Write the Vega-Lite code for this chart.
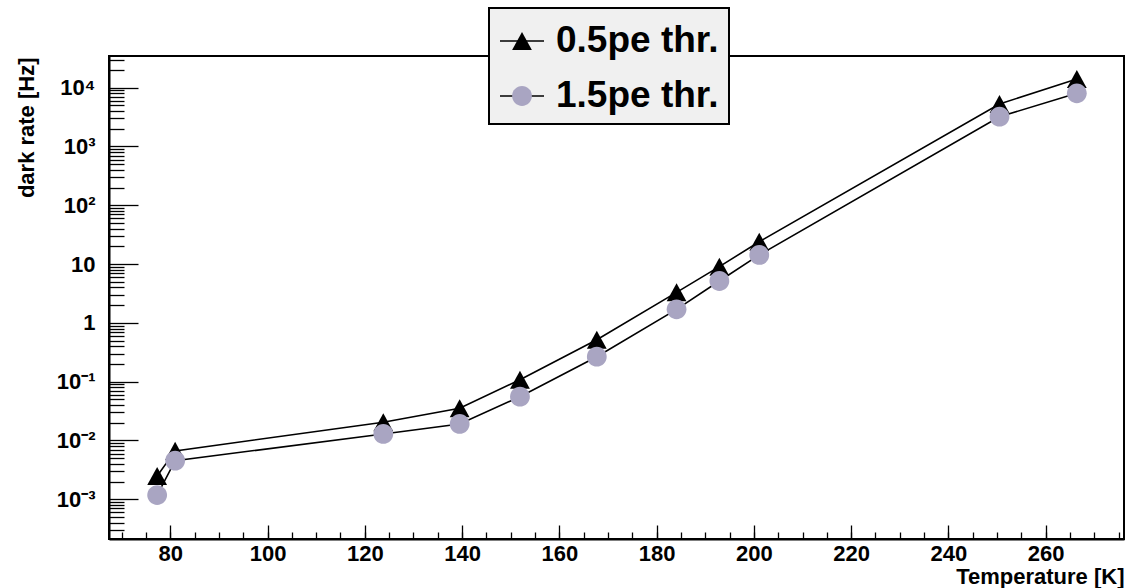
{
  "$schema": "https://vega.github.io/schema/vega-lite/v6.json",
  "width": 1015,
  "height": 483,
  "autosize": {"type": "none"},
  "padding": {"left": 109, "top": 56, "right": 5, "bottom": 49},
  "background": "white",
  "config": {
    "view": {"stroke": "black", "strokeWidth": 2},
    "font": "Liberation Sans"
  },
  "data": {
    "values": [
      {"T": 77.3, "rate": 0.00249, "series": "0.5pe thr."},
      {"T": 81.0, "rate": 0.00665, "series": "0.5pe thr."},
      {"T": 123.8, "rate": 0.0204, "series": "0.5pe thr."},
      {"T": 139.5, "rate": 0.0353, "series": "0.5pe thr."},
      {"T": 151.9, "rate": 0.108, "series": "0.5pe thr."},
      {"T": 167.7, "rate": 0.518, "series": "0.5pe thr."},
      {"T": 184.1, "rate": 3.31, "series": "0.5pe thr."},
      {"T": 192.9, "rate": 9.04, "series": "0.5pe thr."},
      {"T": 201.1, "rate": 24.0, "series": "0.5pe thr."},
      {"T": 250.5, "rate": 5280, "series": "0.5pe thr."},
      {"T": 266.4, "rate": 14100, "series": "0.5pe thr."},
      {"T": 77.3, "rate": 0.00118, "series": "1.5pe thr."},
      {"T": 81.0, "rate": 0.00453, "series": "1.5pe thr."},
      {"T": 123.8, "rate": 0.0129, "series": "1.5pe thr."},
      {"T": 139.5, "rate": 0.0191, "series": "1.5pe thr."},
      {"T": 151.9, "rate": 0.0556, "series": "1.5pe thr."},
      {"T": 167.7, "rate": 0.266, "series": "1.5pe thr."},
      {"T": 184.1, "rate": 1.70, "series": "1.5pe thr."},
      {"T": 192.9, "rate": 5.16, "series": "1.5pe thr."},
      {"T": 201.1, "rate": 14.3, "series": "1.5pe thr."},
      {"T": 250.5, "rate": 3210, "series": "1.5pe thr."},
      {"T": 266.4, "rate": 8030, "series": "1.5pe thr."}
    ]
  },
  "resolve": {"axis": {"x": "independent", "y": "independent"}},
  "layer": [
    {
      "mark": {"type": "line", "strokeWidth": 1.6},
      "encoding": {
        "x": {
          "field": "T", "type": "quantitative",
          "scale": {"domain": [67.4, 276.1], "nice": false, "zero": false},
          "axis": {
            "orient": "bottom",
            "values": [80, 100, 120, 140, 160, 180, 200, 220, 240, 260],
            "grid": false,
            "tickSize": -14, "tickWidth": 1.3, "tickColor": "black",
            "domainColor": "black", "domainWidth": 2,
            "labelFont": "Liberation Sans", "labelFontWeight": "bold", "labelFontSize": 22,
            "labelColor": "black", "labelBaseline": "alphabetic", "labelPadding": 35,
            "title": "Temperature [K]",
            "titleFont": "Liberation Sans", "titleFontWeight": "bold", "titleFontSize": 22,
            "titleColor": "black", "titleAlign": "right", "titleAnchor": "end",
            "titleBaseline": "alphabetic", "titleX": 1015, "titleY": 44
          }
        },
        "y": {
          "field": "rate", "type": "quantitative",
          "scale": {"type": "log", "domain": [0.000211, 34600], "nice": false},
          "axis": {
            "orient": "left",
            "values": [0.001, 0.01, 0.1, 1, 10, 100, 1000, 10000],
            "labelExpr": "datum.value >= 9999 ? '10⁴' : datum.value >= 999 ? '10³' : datum.value >= 99 ? '10²' : datum.value >= 9 ? '10' : datum.value >= 0.9 ? '1' : datum.value >= 0.09 ? '10⁻¹' : datum.value >= 0.009 ? '10⁻²' : '10⁻³'",
            "grid": false,
            "tickSize": -29, "tickWidth": 1.3, "tickColor": "black",
            "domainColor": "black", "domainWidth": 2,
            "labelFont": "Liberation Sans", "labelFontWeight": "bold", "labelFontSize": 22,
            "labelColor": "black", "labelPadding": 43,
            "title": "dark rate [Hz]",
            "titleFont": "Liberation Sans", "titleFontWeight": "bold", "titleFontSize": 22,
            "titleColor": "black", "titleAngle": -90, "titleAlign": "right", "titleAnchor": "end",
            "titleBaseline": "alphabetic", "titleX": -76, "titleY": 1
          }
        },
        "stroke": {
          "field": "series", "type": "nominal",
          "scale": {"domain": ["0.5pe thr.", "1.5pe thr."], "range": ["black", "black"]},
          "legend": {
            "orient": "none", "legendX": 380, "legendY": -48, "title": null,
            "symbolType": "M-1,0H1", "symbolSize": 1936, "symbolStrokeWidth": 1.6,
            "labelFont": "Liberation Sans", "labelFontWeight": "bold", "labelFontSize": 37,
            "labelColor": "black", "labelOffset": 11, "labelLimit": 400,
            "padding": 10, "rowPadding": 14,
            "fillColor": "#f0f0f0", "strokeColor": "black", "zindex": 1,
            "encode": {"legend": {"update": {"strokeWidth": {"value": 2}}}}
          }
        }
      }
    },
    {
      "mark": {"type": "point", "filled": true, "size": 1936, "opacity": 1},
      "encoding": {
        "x": {
          "field": "T", "type": "quantitative",
          "axis": {
            "orient": "bottom",
            "values": [70, 75, 80, 85, 90, 95, 100, 105, 110, 115, 120, 125, 130, 135, 140, 145, 150, 155, 160, 165, 170, 175, 180, 185, 190, 195, 200, 205, 210, 215, 220, 225, 230, 235, 240, 245, 250, 255, 260, 265, 270, 275],
            "grid": false, "labels": false, "domain": false, "title": null,
            "tickSize": -7, "tickWidth": 1.3, "tickColor": "black"
          }
        },
        "y": {
          "field": "rate", "type": "quantitative",
          "axis": {
            "orient": "left",
            "values": [0.0003, 0.0004, 0.0005, 0.0006, 0.0007, 0.0008, 0.0009,
                       0.002, 0.003, 0.004, 0.005, 0.006, 0.007, 0.008, 0.009,
                       0.02, 0.03, 0.04, 0.05, 0.06, 0.07, 0.08, 0.09,
                       0.2, 0.3, 0.4, 0.5, 0.6, 0.7, 0.8, 0.9,
                       2, 3, 4, 5, 6, 7, 8, 9,
                       20, 30, 40, 50, 60, 70, 80, 90,
                       200, 300, 400, 500, 600, 700, 800, 900,
                       2000, 3000, 4000, 5000, 6000, 7000, 8000, 9000,
                       20000, 30000],
            "grid": false, "labels": false, "domain": false, "title": null,
            "tickSize": -15, "tickWidth": 1.3, "tickColor": "black"
          }
        },
        "color": {
          "field": "series", "type": "nominal",
          "scale": {"range": ["black", "#a9a5c2"]},
          "legend": {
            "orient": "none", "legendX": 380, "legendY": -48, "title": null,
            "symbolSize": 1936, "symbolStrokeWidth": 1.6, "symbolStrokeColor": "transparent", "symbolOpacity": 1,
            "labelFont": "Liberation Sans", "labelFontWeight": "bold", "labelFontSize": 37,
            "labelOpacity": 0, "labelOffset": 11, "labelLimit": 400,
            "padding": 10, "rowPadding": 14, "zindex": 2
          }
        },
        "shape": {
          "field": "series", "type": "nominal",
          "scale": {"range": ["M0,-0.41L0.45,0.41L-0.45,0.41Z", "M0.45,0A0.45,0.45,0,1,1,-0.45,0A0.45,0.45,0,1,1,0.45,0Z"]},
          "legend": {
            "orient": "none", "legendX": 380, "legendY": -48, "title": null,
            "symbolSize": 1936, "symbolStrokeWidth": 1.6, "symbolStrokeColor": "transparent", "symbolOpacity": 1,
            "labelFont": "Liberation Sans", "labelFontWeight": "bold", "labelFontSize": 37,
            "labelOpacity": 0, "labelOffset": 11, "labelLimit": 400,
            "padding": 10, "rowPadding": 14, "zindex": 2
          }
        }
      }
    }
  ]
}
